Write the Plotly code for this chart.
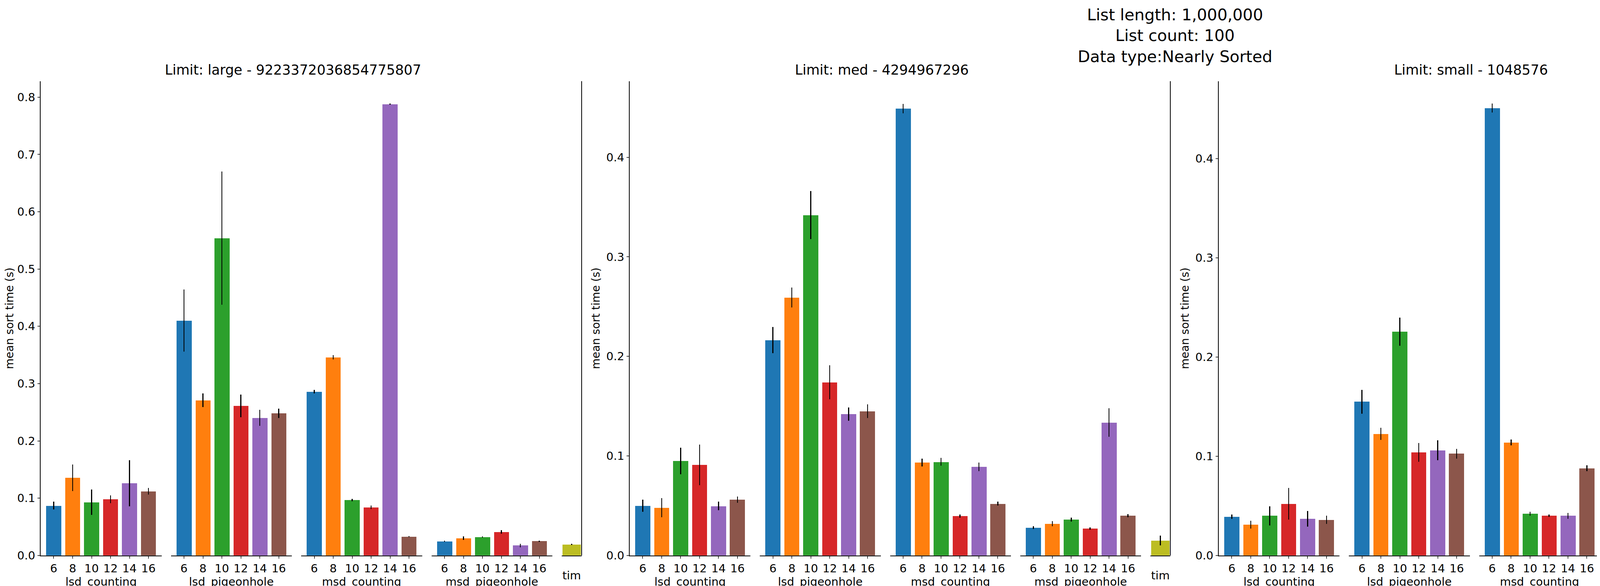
import plotly.graph_objects as go

W, H = 6000, 1500
groups = ["lsd_counting", "lsd_pigeonhole", "msd_counting", "msd_pigeonhole", "tim"]
radix_labels = ["6", "8", "10", "12", "14", "16"]
panel_titles = ["Limit: large - 9223372036854775807", "Limit: med - 4294967296",
                "Limit: small - 1048576", "Limit: tiny - 65536"]
colors = ["#1f77b4", "#ff7f0e", "#2ca02c", "#d62728", "#9467bd", "#8c564b"]
tim_color = "#bcbd22"

large_vals = [[0.087, 0.1355, 0.093, 0.098, 0.126, 0.112],
              [0.410, 0.271, 0.554, 0.261, 0.240, 0.248],
              [0.286, 0.346, 0.097, 0.084, 0.788, 0.033],
              [0.0246, 0.030, 0.032, 0.041, 0.0175, 0.025]]
large_errs = [[0.007, 0.023, 0.022, 0.007, 0.040, 0.006],
              [0.054, 0.012, 0.116, 0.020, 0.014, 0.008],
              [0.003, 0.004, 0.002, 0.003, 0.001, 0.001],
              [0.001, 0.003, 0.001, 0.003, 0.003, 0.001]]
med_vals = [[0.050, 0.048, 0.095, 0.091, 0.0496, 0.056],
            [0.2164, 0.259, 0.342, 0.174, 0.142, 0.145],
            [0.449, 0.0933, 0.094, 0.0396, 0.089, 0.052],
            [0.028, 0.032, 0.036, 0.027, 0.1336, 0.040]]
med_errs = [[0.006, 0.0097, 0.0134, 0.0205, 0.0043, 0.003],
            [0.013, 0.010, 0.024, 0.017, 0.0065, 0.007],
            [0.0047, 0.004, 0.004, 0.0015, 0.0045, 0.002],
            [0.0015, 0.0025, 0.002, 0.0013, 0.0144, 0.0015]]
small_vals = [[0.039, 0.031, 0.040, 0.052, 0.037, 0.036],
              [0.155, 0.1225, 0.2255, 0.104, 0.106, 0.1026],
              [0.451, 0.114, 0.042, 0.040, 0.040, 0.088],
              [0.030, 0.0285, 0.027, 0.0277, 0.029, 0.1187]]
small_errs = [[0.0022, 0.004, 0.0097, 0.016, 0.008, 0.004],
              [0.012, 0.006, 0.014, 0.0095, 0.010, 0.005],
              [0.0045, 0.003, 0.002, 0.0012, 0.003, 0.003],
              [0.0015, 0.001, 0.0012, 0.0015, 0.0015, 0.003]]
tiny_vals = [[0.035, 0.0275, 0.0238, 0.024, 0.0258, 0.0197],
             [0.1187, 0.090, 0.1028, 0.0953, 0.088, 0.0647],
             [0.1928, 0.0875, 0.1243, 0.076, 0.0635, 0.045],
             [0.0263, 0.0218, 0.0347, 0.0368, 0.0497, 0.0352]]
tiny_errs = [[0.0068, 0.0017, 0.0017, 0.0012, 0.0015, 0.0006],
             [0.0093, 0.0095, 0.011, 0.0062, 0.006, 0.0028],
             [0.010, 0.004, 0.0033, 0.0034, 0.0036, 0.0017],
             [0.001, 0.001, 0.002, 0.0016, 0.0085, 0.0015]]
tim_vals = [0.019, 0.015, 0.0097, 0.0053]
tim_errs = [0.001, 0.005, 0.0005, 0.0003]

all_vals = [large_vals, med_vals, small_vals, tiny_vals]
all_errs = [large_errs, med_errs, small_errs, tiny_errs]

panel_px = [(96, 1481), (1604, 2988), (3112, 4496), (4659, 5996)]
y_ranges = [0.828, 0.4765, 0.478, 0.2128]
y_dticks = [0.1, 0.1, 0.1, 0.025]
y_formats = [".1f", ".1f", ".1f", ".3f"]
ydom = [70 / H, 1 - 202 / H]
FONT = "DejaVu Sans"

fig = go.Figure()
layout = {}
annotations = []
shapes = []

for p in range(4):
    L, R = panel_px[p]
    s = (R - L) / 1387.0
    yname0 = f"y{p*5+1}"
    for g in range(5):
        i = p * 5 + g + 1
        x0 = L + g * 334 * s
        w = (310 if g < 4 else 51) * s
        xa = "xaxis" if i == 1 else f"xaxis{i}"
        ya = "yaxis" if i == 1 else f"yaxis{i}"
        xref = "x" if i == 1 else f"x{i}"
        yref = "y" if i == 1 else f"y{i}"
        if g < 4:
            fig.add_trace(go.Bar(
                x=list(range(6)), y=all_vals[p][g], width=0.8, marker_color=colors,
                marker_line_width=0,
                error_y=dict(type="data", array=all_errs[p][g], color="black", thickness=2.5, width=0),
                xaxis=xref, yaxis=yref, showlegend=False))
            layout[xa] = dict(domain=[x0 / W, (x0 + w) / W], range=[-0.69, 5.69],
                              tickmode="array", tickvals=list(range(6)), ticktext=radix_labels,
                              showline=True, linecolor="black", linewidth=2,
                              ticks="outside", ticklen=6, tickwidth=2,
                              title=dict(text=groups[g], font=dict(size=29), standoff=0),
                              tickfont=dict(size=29), anchor=yref, showgrid=False, zeroline=False)
        else:
            fig.add_trace(go.Bar(
                x=[0], y=[tim_vals[p]], width=0.8, marker_color=tim_color, marker_line_width=0,
                error_y=dict(type="data", array=[tim_errs[p]], color="black", thickness=2.5, width=0),
                xaxis=xref, yaxis=yref, showlegend=False))
            layout[xa] = dict(domain=[x0 / W, (x0 + w) / W], range=[-0.44, 0.44],
                              showticklabels=False, ticks="",
                              showline=True, linecolor="black", linewidth=2,
                              title=dict(text="tim", font=dict(size=29), standoff=40),
                              anchor=yref, showgrid=False, zeroline=False)
            shapes.append(dict(type="line", xref=f"{xref} domain", yref=f"{yref} domain",
                               x0=1, x1=1, y0=0, y1=1, line=dict(color="black", width=2)))
        if g == 0:
            layout[ya] = dict(domain=ydom, range=[0, y_ranges[p]], dtick=y_dticks[p],
                              tickformat=y_formats[p], showline=True, linecolor="black",
                              linewidth=2, ticks="outside", ticklen=6, tickwidth=2,
                              tickfont=dict(size=29), anchor=xref, showgrid=False, zeroline=False,
                              title=dict(text="mean sort time (s)", font=dict(size=28), standoff=8))
        else:
            layout[ya] = dict(domain=ydom, matches=yname0, visible=False, anchor=xref,
                              showgrid=False, zeroline=False)
    cx = (L + (L + (3 * 334 + 310) * s)) / 2 - 9
    annotations.append(dict(text=panel_titles[p], x=cx / W, y=1 - 173 / H, xref="paper",
                            yref="paper", xanchor="center", yanchor="middle",
                            showarrow=False, font=dict(size=35)))

annotations.append(dict(text="List length: 1,000,000<br>List count: 100<br>Data type:Nearly Sorted",
                        x=0.5, y=1 - 4 / H, xref="paper", yref="paper", xanchor="center",
                        yanchor="top", showarrow=False, font=dict(size=41), align="center"))

fig.update_layout(**layout)
fig.update_layout(width=W, height=H, margin=dict(l=0, r=0, t=0, b=0),
                  plot_bgcolor="white", paper_bgcolor="white",
                  font=dict(family=FONT, color="black"),
                  annotations=annotations, shapes=shapes, bargap=0)
fig.write_html("out.html")
